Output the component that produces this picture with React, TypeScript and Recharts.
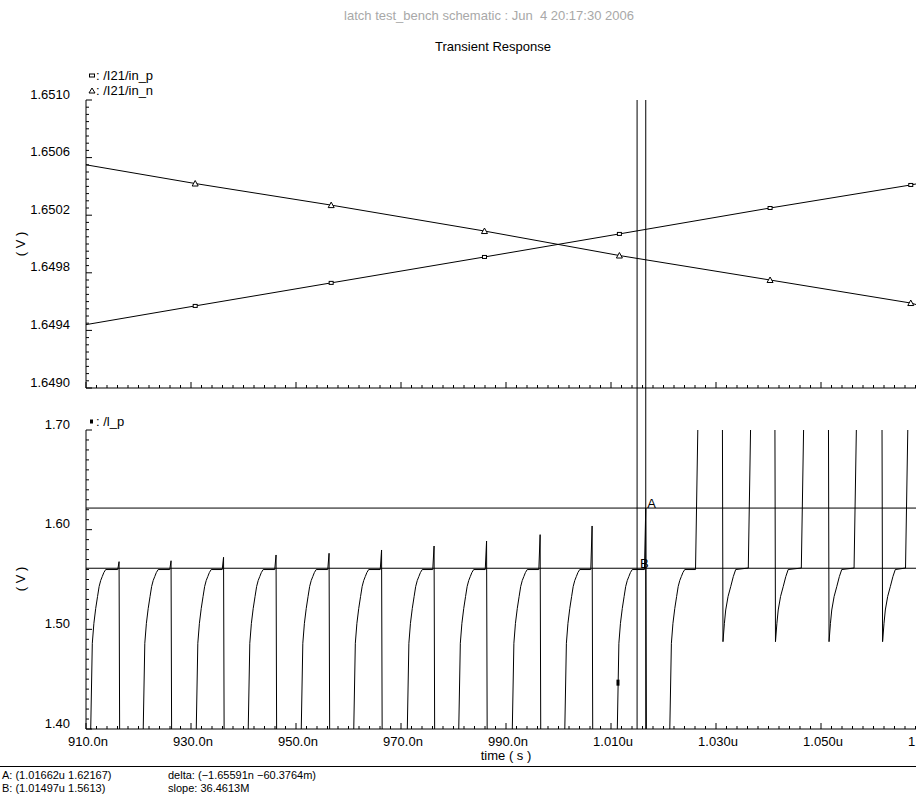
import React from 'react';
import { LineChart, Line, XAxis, YAxis, ReferenceLine, ReferenceDot } from 'recharts';

const FONT = '"Liberation Sans", Arial, sans-serif';

// time axis (ns)
const xTicks = [910, 930, 950, 970, 990, 1010, 1030, 1050, 1070];
const xLabels = ['910.0n', '930.0n', '950.0n', '970.0n', '990.0n', '1.010u', '1.030u', '1.050u', '1.070u'];

// top panel: /I21/in_p, /I21/in_n
const topYTicks = [1.649, 1.6494, 1.6498, 1.6502, 1.6506, 1.651];
const topYLabels = ['1.6490', '1.6494', '1.6498', '1.6502', '1.6506', '1.6510'];
const inTimes = [910, 930.8, 956.7, 985.9, 1011.6, 1040.3, 1067.1, 1070];
const inP = [1.64944, 1.64957, 1.64973, 1.64991, 1.65007, 1.65025, 1.65041, 1.65043];
const inN = [1.65055, 1.65042, 1.65027, 1.65009, 1.64992, 1.64975, 1.64959, 1.64956];
const inMarked = [false, true, true, true, true, true, true, false];

// bottom panel: /l_p
const botYTicks = [1.4, 1.5, 1.6, 1.7];
const botYLabels = ['1.40', '1.50', '1.60', '1.70'];
const riseTimes = [910.9, 920.9, 931.0, 940.9, 951.0, 961.0, 971.2, 981.0, 991.2, 1001.2, 1011.2, 1021.2];
const spikeTimes = [916.3, 926.2, 936.2, 946.2, 956.3, 966.3, 976.3, 986.3, 996.5, 1006.4, 1016.62];
const spikePeaks = [1.5679, 1.5688, 1.5723, 1.5746, 1.5763, 1.5796, 1.5836, 1.5886, 1.595, 1.6037, 1.62167];
const riseOffsets = [-0.12, 0, 0.3, 0.6, 0.95, 1.3, 1.6, 1.9, 2.2, 2.5, 2.85];
const riseValues = [1.25, 1.4, 1.486, 1.506, 1.521, 1.533, 1.543, 1.549, 1.553, 1.557, 1.56];
const plateauPre = 1.56;
const upTimes = [1026.1, 1036.15, 1046.25, 1056.3, 1066.1];
const dipTimes = [1031.2, 1041.2, 1051.4, 1061.6];
const dipOffsets = [0.13, 0.4, 0.65, 1.1, 1.6, 2.1, 2.55];
const dipValues = [1.4876, 1.506, 1.5194, 1.533, 1.5428, 1.553, 1.56];
const plateauPost = 1.5615;
const lowRail = 1.25;
const highRail = 1.85;
const lpMarkTime = 1011.33;
const lpMarkValue = 1.4465;

// cursors
const cursorNames = ['A', 'B'];
const cursorTimes = [1016.62, 1014.97];
const cursorValues = [1.62167, 1.5613];

const topData = inTimes.map((t, i) => ({ t, p: inP[i], n: inN[i], m: inMarked[i] }));

const lpData: { t: number; v: number }[] = [{ t: 910, v: lowRail }];
spikeTimes.forEach((ts, k) => {
  riseOffsets.forEach((o, i) => lpData.push({ t: riseTimes[k] + o, v: riseValues[i] }));
  lpData.push({ t: ts - 0.25, v: plateauPre });
  lpData.push({ t: ts, v: spikePeaks[k] });
  lpData.push({ t: ts + 0.2, v: lowRail });
});
riseOffsets.forEach((o, i) => lpData.push({ t: riseTimes[11] + o, v: riseValues[i] }));
upTimes.forEach((tu, j) => {
  lpData.push({ t: tu, v: j === 0 ? plateauPre : plateauPost });
  lpData.push({ t: tu + 0.9, v: highRail });
  if (j < dipTimes.length) {
    const td = dipTimes[j];
    lpData.push({ t: td - 0.05, v: highRail });
    dipOffsets.forEach((o, i) => lpData.push({ t: td + o, v: dipValues[i] }));
  }
});
lpData.push({ t: 1070, v: highRail });

// minor tick positions
const xMinor = Array.from({ length: 81 }, (_, i) => 910 + 2 * i);
const topYMinor = Array.from({ length: 41 }, (_, i) => Math.round((1.649 + i * 0.00005) * 1e6) / 1e6);
const botYMinor = Array.from({ length: 31 }, (_, i) => Math.round((1.4 + i * 0.01) * 1000) / 1000);

const findMajor = (list: number[], v: number) => list.findIndex((m) => Math.abs(m - v) < 1e-7);

const XTick = (props: any) => {
  const { x, y, payload, showLabel } = props;
  const i = findMajor(xTicks, payload.value);
  return (
    <g>
      <line x1={x} x2={x} y1={y} y2={y - (i >= 0 ? 6 : 3)} stroke="#000" strokeWidth={1} />
      {showLabel && i >= 0 && (
        <text x={x + 2} y={y + 12} textAnchor="middle" dominantBaseline="central" fontFamily={FONT} fontSize={13} fill="#000">
          {xLabels[i]}
        </text>
      )}
    </g>
  );
};

const YTick = (props: any) => {
  const { x, y, payload, majors, labels } = props;
  const i = findMajor(majors, payload.value);
  return (
    <g>
      <line x1={x} x2={x + (i >= 0 ? 6 : 3)} y1={y} y2={y} stroke="#000" strokeWidth={1} />
      {i >= 0 && (
        <text x={x - 16} y={y - 6} textAnchor="end" dominantBaseline="central" fontFamily={FONT} fontSize={13} fill="#000">
          {labels[i]}
        </text>
      )}
    </g>
  );
};

const squareDot = (props: any) => {
  const { cx, cy, index, payload } = props;
  if (!payload.m) return <g key={`s${index}`} />;
  return <rect key={`s${index}`} x={cx - 2} y={cy - 1.5} width={4} height={3} fill="#fff" stroke="#000" strokeWidth={1} />;
};

const triDot = (props: any) => {
  const { cx, cy, index, payload } = props;
  if (!payload.m) return <g key={`t${index}`} />;
  return (
    <path key={`t${index}`} d={`M${cx},${cy - 3} L${cx + 3},${cy + 2.5} L${cx - 3},${cy + 2.5} Z`} fill="#fff" stroke="#000" strokeWidth={1} />
  );
};

// cursor line in the upper panel continues down through the gap
const GAP = 42;
const cursorShape = (p: any) => (
  <line x1={p.x1} x2={p.x2} y1={Math.min(p.y1, p.y2)} y2={Math.max(p.y1, p.y2) + GAP} stroke="#000" strokeWidth={1} />
);

const Txt = ({ x, y, children, anchor = 'middle', size = 13, color = '#000', rotate = 0 }: any) => (
  <div
    style={{
      position: 'absolute',
      left: x,
      top: y,
      transform: `translate(${anchor === 'middle' ? '-50%' : anchor === 'end' ? '-100%' : '0'}, -50%) rotate(${rotate}deg)`,
      fontSize: size,
      color,
      whiteSpace: 'pre',
      lineHeight: 1,
    }}
  >
    {children}
  </div>
);

export default function App() {
  return (
    <div style={{ position: 'fixed', left: 0, top: 0, width: 916, height: 796, overflow: 'hidden', background: '#fff', fontFamily: FONT }}>
      <Txt x={489} y={15} color="#a8a8a8">latch test_bench schematic : Jun  4 20:17:30 2006</Txt>
      <Txt x={493} y={46}>Transient Response</Txt>

      <div style={{ position: 'absolute', left: 0, top: 0 }}>
        <LineChart width={940} height={430} data={topData} margin={{ top: 100, right: 14, bottom: GAP - 1, left: 0 }}>
          <XAxis
            dataKey="t"
            type="number"
            domain={[910, 1070]}
            allowDataOverflow
            ticks={xMinor}
            interval={0}
            height={1}
            tickLine={false}
            tickSize={0}
            tickMargin={0}
            axisLine={{ stroke: '#000' }}
            tick={(p: any) => <XTick {...p} showLabel={false} />}
          />
          <YAxis
            type="number"
            domain={[1.649, 1.651]}
            allowDataOverflow
            ticks={topYMinor}
            interval={0}
            width={86}
            tickLine={false}
            tickSize={0}
            tickMargin={0}
            axisLine={{ stroke: '#000' }}
            tick={(p: any) => <YTick {...p} majors={topYTicks} labels={topYLabels} />}
          />
          <Line dataKey="p" stroke="#000" strokeWidth={1} dot={squareDot} isAnimationActive={false} />
          <Line dataKey="n" stroke="#000" strokeWidth={1} dot={triDot} isAnimationActive={false} />
          {cursorTimes.map((t, i) => (
            <ReferenceLine key={cursorNames[i]} x={t} stroke="#000" shape={cursorShape} />
          ))}
        </LineChart>
      </div>

      <div style={{ position: 'absolute', left: 0, top: 410 }}>
        <LineChart width={940} height={340} data={lpData} margin={{ top: 20, right: 14, bottom: 20, left: 0 }}>
          <XAxis
            dataKey="t"
            type="number"
            domain={[910, 1070]}
            allowDataOverflow
            ticks={xMinor}
            interval={0}
            height={1}
            tickLine={false}
            tickSize={0}
            tickMargin={0}
            axisLine={{ stroke: '#000' }}
            tick={(p: any) => <XTick {...p} showLabel />}
          />
          <YAxis
            type="number"
            domain={[1.4, 1.7]}
            allowDataOverflow
            ticks={botYMinor}
            interval={0}
            width={86}
            tickLine={false}
            tickSize={0}
            tickMargin={0}
            axisLine={{ stroke: '#000' }}
            tick={(p: any) => <YTick {...p} majors={botYTicks} labels={botYLabels} />}
          />
          {cursorValues.map((v, i) => (
            <ReferenceLine key={`h${i}`} y={v} stroke="#000" strokeWidth={1} />
          ))}
          {cursorTimes.map((t, i) => (
            <ReferenceLine key={`v${i}`} x={t} stroke="#000" strokeWidth={1} />
          ))}
          <Line dataKey="v" stroke="#000" strokeWidth={1} dot={false} isAnimationActive={false} />
          <ReferenceDot
            x={lpMarkTime}
            y={lpMarkValue}
            r={0}
            shape={(p: any) => <rect x={p.cx - 1.5} y={p.cy - 3} width={3} height={6} fill="#000" />}
          />
          {cursorNames.map((name, i) => (
            <ReferenceDot
              key={`l${name}`}
              x={cursorTimes[i]}
              y={cursorValues[i]}
              r={0}
              shape={(p: any) => (
                <text x={p.cx + (i === 0 ? 1.5 : 3)} y={p.cy} fontFamily={FONT} fontSize={13} fill="#000">
                  {name}
                </text>
              )}
            />
          ))}
        </LineChart>
      </div>

      {/* legends */}
      <div style={{ position: 'absolute', left: 88, top: 75, transform: 'translateY(-50%)', display: 'flex', alignItems: 'center', fontSize: 13, lineHeight: 1 }}>
        <svg width={8} height={8}><rect x={1.5} y={2.5} width={5} height={3} fill="#fff" stroke="#000" /></svg>
        <span>: /I21/in_p</span>
      </div>
      <div style={{ position: 'absolute', left: 88, top: 90, transform: 'translateY(-50%)', display: 'flex', alignItems: 'center', fontSize: 13, lineHeight: 1 }}>
        <svg width={8} height={8}><path d="M4,1.5 L7,6.5 L1,6.5 Z" fill="#fff" stroke="#000" /></svg>
        <span>: /I21/in_n</span>
      </div>
      <div style={{ position: 'absolute', left: 88, top: 421, transform: 'translateY(-50%)', display: 'flex', alignItems: 'center', fontSize: 13, lineHeight: 1 }}>
        <svg width={8} height={8}><rect x={2} y={2} width={3} height={4} fill="#000" /></svg>
        <span>: /l_p</span>
      </div>

      {/* y axis units */}
      <Txt x={20} y={244} rotate={-90}>( V )</Txt>
      <Txt x={20} y={579} rotate={-90}>( V )</Txt>

      {/* x axis title and cursor readout */}
      <Txt x={506} y={755}>time ( s )</Txt>
      <div style={{ position: 'absolute', left: 0, top: 766, width: 916, height: 1, background: '#000' }} />
      <Txt x={2} y={775} anchor="start" size={11}>A: (1.01662u 1.62167)</Txt>
      <Txt x={2} y={788} anchor="start" size={11}>B: (1.01497u 1.5613)</Txt>
      <Txt x={168} y={775} anchor="start" size={11}>delta: (−1.65591n −60.3764m)</Txt>
      <Txt x={168} y={788} anchor="start" size={11}>slope: 36.4613M</Txt>
    </div>
  );
}
